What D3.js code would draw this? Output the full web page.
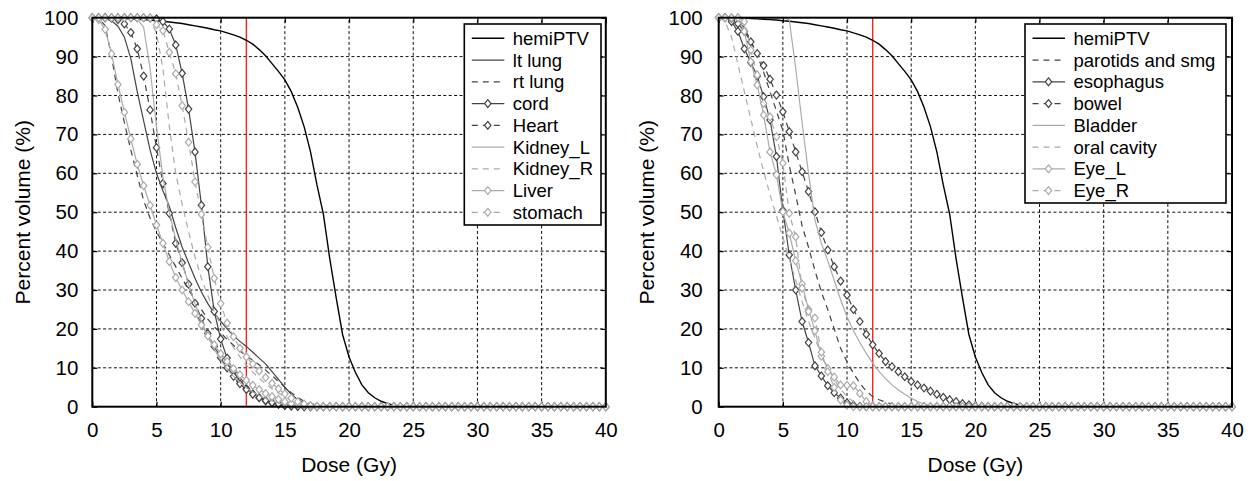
<!DOCTYPE html>
<html><head><meta charset="utf-8">
<script src="https://cdn.jsdelivr.net/npm/d3@7"></script>
<style>
body{margin:0;background:#fff}
text{font-family:"Liberation Sans",Arial,Helvetica,sans-serif;fill:#000}
</style>
</head><body>
<svg id="c" width="1254" height="481"></svg>
<script>
// Dose grid (Gy) shared by every curve, sampled every 0.5 Gy
const dose = d3.range(0, 40.5, 0.5);
const xTicks = [0,5,10,15,20,25,30,35,40];
const yTicks = [0,10,20,30,40,50,60,70,80,90,100];
const refDose = 12;

// ---- hemiPTV (both panels) ----
const hemiPTV = [
100,100,100,99.9,99.9,99.8,99.7,99.6,99.5,99.4,
99.2,99.1,98.9,98.7,98.5,98.2,97.9,97.6,97.3,96.9,
96.6,96.1,95.6,95,94.2,93.2,91.8,90.2,88.2,86.2,
84,81,77,72,65.5,57,49.5,38,28,18.5,
12.8,8.8,5.6,3.6,2.3,1.4,0.8,0.4,0.2,0.1,
0,0,0,0,0,0,0,0,0,0,
0,0,0,0,0,0,0,0,0,0,
0,0,0,0,0,0,0,0,0,0,0];

// ---- left panel organs ----
const ltLung = [
100,100,99.8,99.2,97.8,95,89.5,81,73.5,66,
60,55.5,51.5,46,41,37,33,29.5,26.5,24,
22,20,18.2,16.8,15.5,14,12.5,11,9,7,
5,3.2,1.8,1,0.5,0.2,0.1,0,0,0,
0,0,0,0,0,0,0,0,0,0,
0,0,0,0,0,0,0,0,0,0,
0,0,0,0,0,0,0,0,0,0,
0,0,0,0,0,0,0,0,0,0,0];
const rtLung = [
100,99.8,98,90,80.5,73,66,59.5,53,48.5,
45,42,39,36,33,30,27.5,25,22.5,20.5,
19,17.3,15.8,14.4,13,12,10.8,9.4,8,6.5,
5,3.6,2.4,1.4,0.8,0.4,0.2,0.1,0,0,
0,0,0,0,0,0,0,0,0,0,
0,0,0,0,0,0,0,0,0,0,
0,0,0,0,0,0,0,0,0,0,
0,0,0,0,0,0,0,0,0,0,0];
const cord = [
100,100,100,100,100,100,100,100,100,99.9,
99.7,99,97.1,93,85.7,76.5,65.5,51.8,36,24.5,
17.4,12.5,9,6.5,4.7,3.3,2.3,1.5,1,0.6,
0.3,0.2,0.1,0,0,0,0,0,0,0,
0,0,0,0,0,0,0,0,0,0,
0,0,0,0,0,0,0,0,0,0,
0,0,0,0,0,0,0,0,0,0,
0,0,0,0,0,0,0,0,0,0,0];
const heart = [
100,100,100,99.9,99.5,98.4,96.2,92,85,76.3,
66.6,57.4,49.7,42,37,31.5,26.6,22.7,18.8,15.5,
12.6,10,7.8,5.9,4.4,3.2,2.3,1.6,1.1,0.7,
0.4,0.2,0.1,0,0,0,0,0,0,0,
0,0,0,0,0,0,0,0,0,0,
0,0,0,0,0,0,0,0,0,0,
0,0,0,0,0,0,0,0,0,0,
0,0,0,0,0,0,0,0,0,0,0];
const kidneyL = [
100,100,100,100,100,100,100,99.7,97.5,87,
72,59,50,43,37,31.5,26.5,22,18,14.8,
12,9.7,7.8,6.2,4.9,3.8,2.9,2.1,1.5,1,
0.6,0.3,0.1,0,0,0,0,0,0,0,
0,0,0,0,0,0,0,0,0,0,
0,0,0,0,0,0,0,0,0,0,
0,0,0,0,0,0,0,0,0,0,
0,0,0,0,0,0,0,0,0,0,0];
const kidneyR = [
100,100,100,100,100,100,100,100,100,99.5,
96,87,72,60,52,45,38.5,33,28.5,24.5,
21,18,15.2,12.8,10.7,8.9,7.3,5.9,4.6,3.5,
2.5,1.7,1,0.5,0.2,0,0,0,0,0,
0,0,0,0,0,0,0,0,0,0,
0,0,0,0,0,0,0,0,0,0,
0,0,0,0,0,0,0,0,0,0,
0,0,0,0,0,0,0,0,0,0,0];
const liver = [
100,99.5,97,90.7,82.8,75.7,68.9,62.3,56.8,51.8,
46.7,42,37.3,33.2,30,27,24,21,18.2,15.9,
13.6,11.6,9.8,8.2,6.8,5.5,4.4,3.4,2.6,1.9,
1.3,0.8,0.5,0.3,0.1,0,0,0,0,0,
0,0,0,0,0,0,0,0,0,0,
0,0,0,0,0,0,0,0,0,0,
0,0,0,0,0,0,0,0,0,0,
0,0,0,0,0,0,0,0,0,0,0];
const stomach = [
100,100,100,100,100,100,100,100,100,100,
98.2,96.7,91.1,85.6,77.4,68,57.8,49.5,41,33,
26.5,21.5,18,15,12.8,11,9.2,7.5,6,4.6,
3.3,2.2,1.3,0.7,0.3,0.1,0,0,0,0,
0,0,0,0,0,0,0,0,0,0,
0,0,0,0,0,0,0,0,0,0,
0,0,0,0,0,0,0,0,0,0,
0,0,0,0,0,0,0,0,0,0,0];

// ---- right panel organs ----
const parotids = [
100,100,99.8,99,97.5,94,90.5,86,81,76,
71,62,54.5,46.5,41,35,29.5,25,20,15,
11.5,8.6,6,4,2.6,1.8,1.2,0.7,0.3,0.1,
0,0,0,0,0,0,0,0,0,0,
0,0,0,0,0,0,0,0,0,0,
0,0,0,0,0,0,0,0,0,0,
0,0,0,0,0,0,0,0,0,0,
0,0,0,0,0,0,0,0,0,0,0];
const esophagus = [
100,100,99,96.5,92,88.5,85,79.7,73.7,64.3,
50.5,39,30,21.9,16.5,10.5,7.9,5.4,3.6,2.2,
1,0.4,0.1,0,0,0,0,0,0,0,
0,0,0,0,0,0,0,0,0,0,
0,0,0,0,0,0,0,0,0,0,
0,0,0,0,0,0,0,0,0,0,
0,0,0,0,0,0,0,0,0,0,
0,0,0,0,0,0,0,0,0,0,0];
const bowel = [
100,100,99.8,98.5,96.5,93.8,90.8,87.7,84.2,80.1,
75.8,70.7,65.5,60.4,55.3,50.1,44.8,40.3,36,32.3,
28.7,25,21.9,18.6,15.9,13.7,11.6,10.3,9,7.7,
6.5,5.6,4.8,4,3.2,2.4,1.8,1.3,0.8,0.5,
0.2,0.1,0,0,0,0,0,0,0,0,
0,0,0,0,0,0,0,0,0,0,
0,0,0,0,0,0,0,0,0,0,
0,0,0,0,0,0,0,0,0,0,0];
const bladder = [
100,100,100,100,100,100,100,100,100,100,
100,99.5,87,73,60,48,42,37.5,32.5,27.5,
23.1,19.5,16.5,13.7,11.2,9,7.2,5.6,4.3,3.2,
2.2,1.3,0.7,0.4,0.1,0,0,0,0,0,
0,0,0,0,0,0,0,0,0,0,
0,0,0,0,0,0,0,0,0,0,
0,0,0,0,0,0,0,0,0,0,
0,0,0,0,0,0,0,0,0,0,0];
const oralCavity = [
100,99,95,88,81,74,67,60.5,54.5,49,
43.5,38,32.5,27,22,17.5,13.5,10,7,4.5,
2.6,1.3,0.5,0.1,0,0,0,0,0,0,
0,0,0,0,0,0,0,0,0,0,
0,0,0,0,0,0,0,0,0,0,
0,0,0,0,0,0,0,0,0,0,
0,0,0,0,0,0,0,0,0,0,
0,0,0,0,0,0,0,0,0,0,0];
const eyeL = [
100,100,100,100,96.5,88.7,82.7,75,65.5,59.6,
50.1,44.6,37.5,31.5,25,19.5,13,9.8,7.6,5.6,
5.5,5.4,3.4,1.3,0.3,0,0,0,0,0,
0,0,0,0,0,0,0,0,0,0,
0,0,0,0,0,0,0,0,0,0,
0,0,0,0,0,0,0,0,0,0,
0,0,0,0,0,0,0,0,0,0,
0,0,0,0,0,0,0,0,0,0,0];
const eyeR = [
100,100,100,100,99,91.7,85.3,78,74.5,69.4,
62.6,49.7,43.7,30.5,24.5,22.8,14,9,5,1.7,
0.4,0,0,0,0,0,0,0,0,0,
0,0,0,0,0,0,0,0,0,0,
0,0,0,0,0,0,0,0,0,0,
0,0,0,0,0,0,0,0,0,0,
0,0,0,0,0,0,0,0,0,0,
0,0,0,0,0,0,0,0,0,0,0];

const leftNames = ["hemiPTV","lt lung","rt lung","cord","Heart","Kidney_L","Kidney_R","Liver","stomach"];
const leftValues = [hemiPTV, ltLung, rtLung, cord, heart, kidneyL, kidneyR, liver, stomach];
const rightNames = ["hemiPTV","parotids and smg","esophagus","bowel","Bladder","oral cavity","Eye_L","Eye_R"];
const rightValues = [hemiPTV, parotids, esophagus, bowel, bladder, oralCavity, eyeL, eyeR];

// styles
const BLACK = "#000", DARK = "#444", LIGHT = "#ababab";
const DASH = "6,5";
const leftStyles = [
  {c:BLACK,d:null,m:false,w:1.4},
  {c:DARK,d:null,m:false,w:1.2},
  {c:DARK,d:DASH,m:false,w:1.2},
  {c:DARK,d:null,m:true,w:1.2},
  {c:DARK,d:DASH,m:true,w:1.2},
  {c:LIGHT,d:null,m:false,w:1.2},
  {c:LIGHT,d:DASH,m:false,w:1.2},
  {c:LIGHT,d:null,m:true,w:1.2},
  {c:LIGHT,d:DASH,m:true,w:1.2}
];
const rightStyles = [
  {c:BLACK,d:null,m:false,w:1.4},
  {c:DARK,d:DASH,m:false,w:1.2},
  {c:DARK,d:null,m:true,w:1.2},
  {c:DARK,d:DASH,m:true,w:1.2},
  {c:LIGHT,d:null,m:false,w:1.2},
  {c:LIGHT,d:DASH,m:false,w:1.2},
  {c:LIGHT,d:null,m:true,w:1.2},
  {c:LIGHT,d:DASH,m:true,w:1.2}
];

const svg = d3.select("#c");
const diamond = "M0,-3.9L3.2,0L0,3.9L-3.2,0Z";

function panel(p){
  const x = d3.scaleLinear().domain([0,40]).range([p.x0, p.x1]);
  const y = d3.scaleLinear().domain([0,100]).range([406.7, 17.7]);
  const g = svg.append("g");

  // grid
  g.append("g").selectAll("line").data(xTicks.slice(1,-1)).join("line")
    .attr("x1", d=>x(d)).attr("x2", d=>x(d)).attr("y1", y(0)).attr("y2", y(100))
    .attr("stroke","#111").attr("stroke-width",1).attr("stroke-dasharray","3,2.4");
  g.append("g").selectAll("line").data(yTicks.slice(1,-1)).join("line")
    .attr("x1", x(0)).attr("x2", x(40)).attr("y1", d=>y(d)).attr("y2", d=>y(d))
    .attr("stroke","#111").attr("stroke-width",1).attr("stroke-dasharray","3,2.4");

  // reference dose line
  g.append("line").attr("x1", x(refDose)).attr("x2", x(refDose))
    .attr("y1", y(0)).attr("y2", y(100)).attr("stroke","#ff2020").attr("stroke-width",1.4);

  // axes
  const ax = d3.axisBottom(x).tickValues(xTicks).tickSize(-5).tickPadding(16);
  const ay = d3.axisLeft(y).tickValues(yTicks).tickSize(-5).tickPadding(p.ypad);
  const fmtAxis = s => { s.select(".domain").remove();
    s.selectAll(".tick line").attr("stroke","#000").attr("stroke-width",1.2);
    s.selectAll("text").attr("font-size",20.5).attr("fill","#000")
      .attr("font-family","Liberation Sans, Arial, sans-serif"); };
  g.append("g").attr("transform",`translate(0,${y(0)})`).call(ax).call(fmtAxis);
  g.append("g").attr("transform",`translate(${x(0)},0)`).call(ay).call(fmtAxis);
  g.append("g").attr("transform",`translate(0,${y(100)})`)
    .call(d3.axisTop(x).tickValues(xTicks).tickSize(-5).tickFormat("")).call(fmtAxis);
  g.append("g").attr("transform",`translate(${x(40)},0)`)
    .call(d3.axisRight(y).tickValues(yTicks).tickSize(-5).tickFormat("")).call(fmtAxis);

  // series
  const line = d3.line().x((v,i)=>x(dose[i])).y(v=>y(v));
  p.values.forEach((vals, k) => {
    const st = p.styles[k];
    g.append("path").attr("d", line(vals)).attr("fill","none")
      .attr("stroke", st.c).attr("stroke-width", st.w)
      .attr("stroke-dasharray", st.d);
    if (st.m) {
      g.append("g").selectAll("path").data(vals).join("path")
        .attr("d", diamond)
        .attr("transform", (v,i)=>`translate(${x(dose[i])},${y(v)})`)
        .attr("fill","#fff").attr("stroke", st.c).attr("stroke-width",1.2);
    }
  });

  // frame
  g.append("rect").attr("x", x(0)).attr("y", y(100))
    .attr("width", x(40)-x(0)).attr("height", y(0)-y(100))
    .attr("fill","none").attr("stroke","#000").attr("stroke-width",2);

  // axis titles
  g.append("text").attr("x", (x(0)+x(40))/2).attr("y", 472)
    .attr("text-anchor","middle").attr("font-size",21).text("Dose (Gy)");
  g.append("text").attr("transform",`translate(${p.ytx},${(y(0)+y(100))/2}) rotate(-90)`)
    .attr("text-anchor","middle").attr("dy","0.35em").attr("font-size",21)
    .text("Percent volume (%)");

  // legend
  const L = p.legend;
  const lg = g.append("g");
  lg.append("rect").attr("x", L.x).attr("y", L.y).attr("width", L.w)
    .attr("height", L.h).attr("fill","#fff").attr("stroke","#000").attr("stroke-width",1.6);
  p.names.forEach((n,k) => {
    const st = p.styles[k];
    const ry = L.y + 14.3 + k*21.75;
    lg.append("line").attr("x1", L.x+7.5).attr("x2", L.x+40)
      .attr("y1", ry).attr("y2", ry).attr("stroke", st.c).attr("stroke-width", st.w)
      .attr("stroke-dasharray", st.d);
    if (st.m) lg.append("path").attr("d", diamond)
      .attr("transform",`translate(${L.x+23.5},${ry})`)
      .attr("fill","#fff").attr("stroke", st.c).attr("stroke-width",1.2);
    lg.append("text").attr("x", L.x+48.5).attr("y", ry).attr("dy","0.35em")
      .attr("font-size",18.5).text(n);
  });
}

panel({x0:92.3, x1:605.8, names:leftNames, values:leftValues, styles:leftStyles,
       ytx:22.5, ypad:14, legend:{x:464.3, y:24, w:136.7, h:201}});
panel({x0:718.7, x1:1232, names:rightNames, values:rightValues, styles:rightStyles,
       ytx:647, ypad:16, legend:{x:1025, y:24, w:201, h:179}});
</script>
</body></html>
